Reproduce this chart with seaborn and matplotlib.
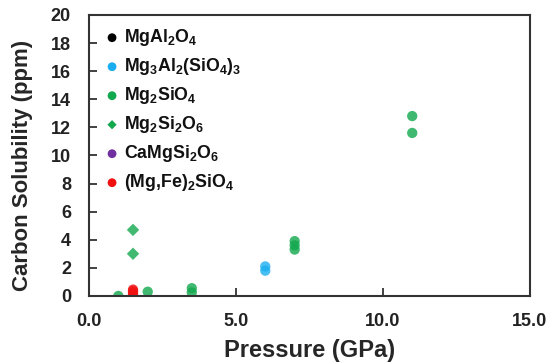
import matplotlib
matplotlib.use("Agg")
import matplotlib.pyplot as plt
import seaborn as sns
import pandas as pd

sns.set_style("white")
plt.rcParams['font.family'] = ['Liberation Sans', 'DejaVu Sans']
plt.rcParams['font.weight'] = 'bold'
plt.rcParams['mathtext.fontset'] = 'custom'
plt.rcParams['mathtext.rm'] = 'Liberation Sans:bold'
plt.rcParams['mathtext.it'] = 'Liberation Sans:bold'
plt.rcParams['mathtext.bf'] = 'Liberation Sans:bold'
plt.rcParams['mathtext.default'] = 'bf'
plt.rcParams['xtick.bottom'] = True
plt.rcParams['ytick.left'] = True

# Data
minerals = ["MgAl$_2$O$_4$", "Mg$_3$Al$_2$(SiO$_4$)$_3$", "Mg$_2$SiO$_4$",
            "Mg$_2$Si$_2$O$_6$", "CaMgSi$_2$O$_6$", "(Mg,Fe)$_2$SiO$_4$"]
colors = ["#000000", "#1AAEF0", "#12A84E", "#12A84E", "#7030A0", "#F01010"]
markers = ["o", "o", "o", "D", "o", "o"]

garnet_p = [6.0, 6.0]
garnet_c = [2.1, 1.8]
fo_p = [1.0, 2.0, 3.5, 3.5, 7.0, 7.0, 7.0, 11.0, 11.0]
fo_c = [0.0, 0.3, 0.55, 0.25, 3.9, 3.6, 3.3, 12.8, 11.6]
en_p = [1.5, 1.5]
en_c = [4.7, 3.0]
ol_p = [1.5, 1.5, 1.5, 1.5]
ol_c = [0.45, 0.35, 0.2, 0.05]

series = {
    minerals[0]: ([], []),
    minerals[1]: (garnet_p, garnet_c),
    minerals[2]: (fo_p, fo_c),
    minerals[3]: (en_p, en_c),
    minerals[4]: ([], []),
    minerals[5]: (ol_p, ol_c),
}

fig = plt.figure(figsize=(5.49, 3.64), dpi=100)
ax = fig.add_axes([0.162, 0.187, 0.803, 0.772])

for i, (name, (px, cy)) in enumerate(series.items()):
    df = pd.DataFrame({"p": px, "c": cy})
    ms = 40 if markers[i] == "D" else 55
    if len(df):
        sns.scatterplot(data=df, x="p", y="c", ax=ax, color=colors[i],
                        marker=markers[i], s=ms, alpha=0.8, edgecolor="none",
                        legend=False)
    ax.scatter([], [], color=colors[i], marker=markers[i],
               s=(22 if markers[i] == "D" else 40), edgecolor="none", label=name)

ax.set_xlim(0, 15)
ax.set_ylim(0, 20)
ax.set_xticks([0, 5, 10, 15])
ax.set_xticklabels(["0.0", "5.0", "10.0", "15.0"])
ax.set_yticks(range(0, 21, 2))
ax.tick_params(axis="both", which="major", direction="in", length=6, width=1.3,
               labelsize=13, color="#333333", labelcolor="#222222",
               bottom=True, left=True)
ax.tick_params(axis="y", pad=13)
ax.tick_params(axis="x", pad=12)
for lab in ax.get_xticklabels() + ax.get_yticklabels():
    lab.set_fontweight("bold")
for sp in ax.spines.values():
    sp.set_color("#333333")
    sp.set_linewidth(1.5)

ax.set_xlabel("Pressure (GPa)", fontsize=17, fontweight="bold")
ax.set_ylabel("Carbon Solubility (ppm)", fontsize=16, fontweight="bold")
ax.xaxis.set_label_coords(0.5, -0.155)
ax.yaxis.set_label_coords(-0.127, 0.465)

leg = ax.legend(loc="upper left", frameon=False, fontsize=12.8,
                handletextpad=0.05, labelspacing=0.45, borderaxespad=0.3,
                handlelength=1.2)
for t in leg.get_texts():
    t.set_fontweight("bold")
    t.set_color("#111111")

fig.savefig("out.png", dpi=100)
